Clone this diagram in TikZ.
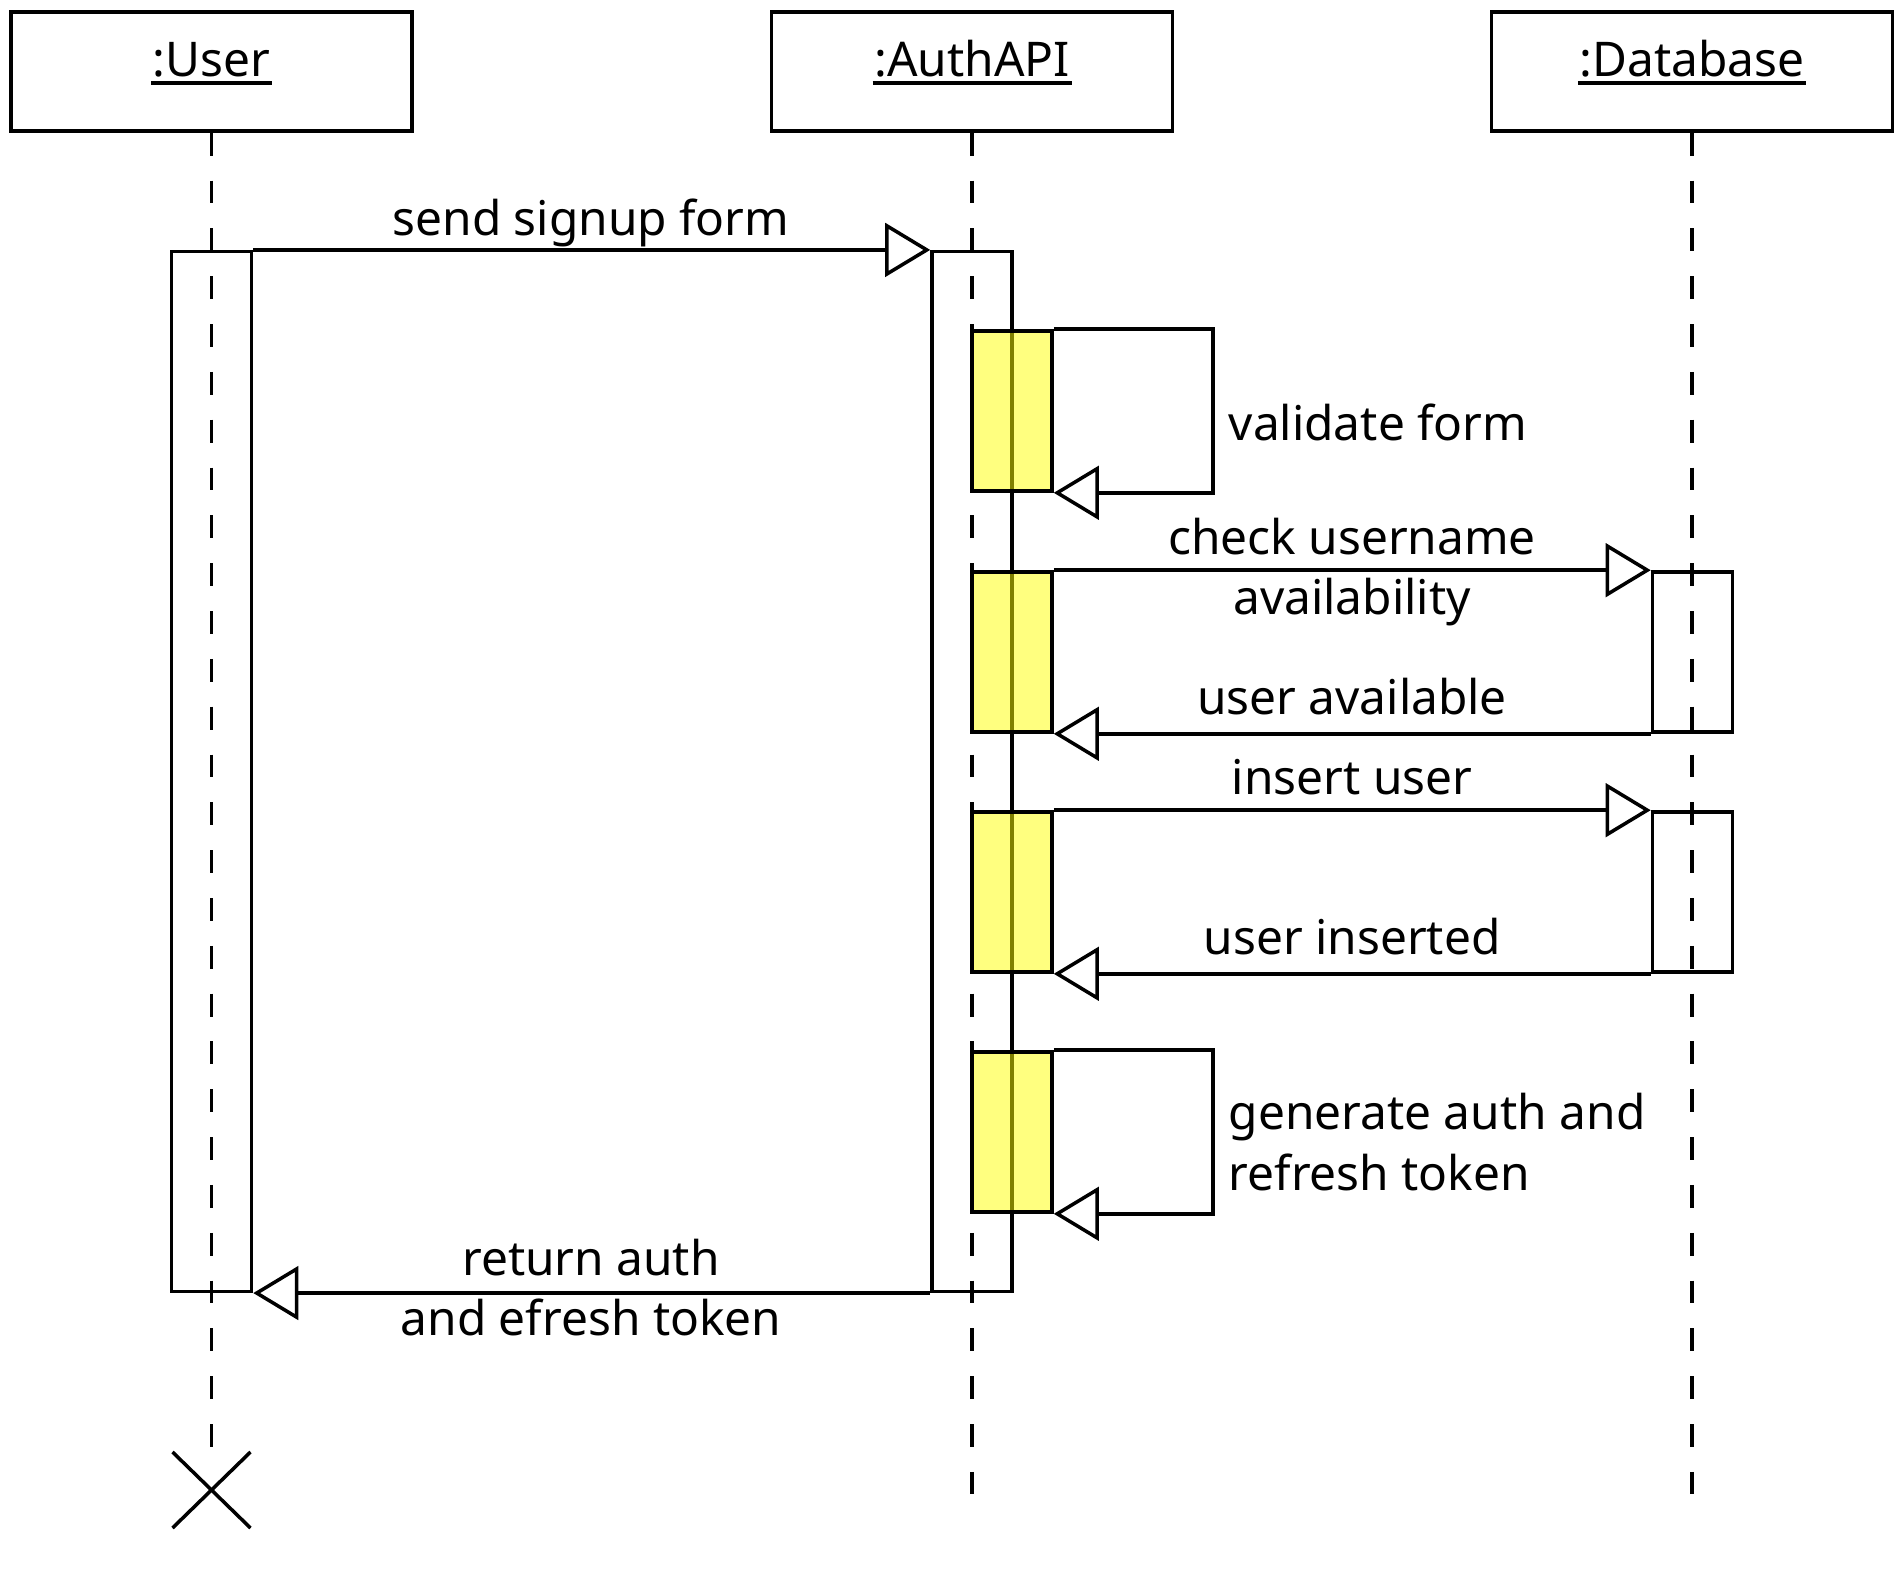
\documentclass[tikz,border=0pt]{standalone}
\usepackage{fontspec}
\setmainfont{Noto Sans}
\usetikzlibrary{arrows.meta,calc}
\definecolor{actyellow}{RGB}{255,255,0}
\begin{document}
\begin{tikzpicture}[x=0.01cm,y=-0.01cm, line width=1pt,
  every node/.style={font=\fontsize{13.6}{16}\selectfont, inner sep=0pt},
  head/.style={draw, minimum width=4.01cm, minimum height=1.19cm},
  life/.style={line width=0.9pt, dash pattern=on 6.5pt off 7.1pt},
  act/.style={draw, minimum width=0.8cm},
  yact/.style={draw, fill=actyellow, fill opacity=0.5, draw opacity=1, minimum width=0.8cm, minimum height=1.6cm},
  msg/.style={-{Triangle[length=12.8pt, width=15.2pt, fill=white, line join=miter]}},
  lbl/.style={anchor=base},
  lbll/.style={anchor=base west},
  uline/.style={line width=1.1pt}]
\useasboundingbox (0,0) rectangle (1900,1580);
% heads
\node[head] (user) at (211.5,71.5) {};
\node[head] (api) at (972,71.5) {};
\node[head] (db) at (1692,71.5) {};
\node[lbl] (tuser) at (211.5,77) {:User};
\node[lbl] (tapi) at (972,77) {:AuthAPI};
\node[lbl] (tdb) at (1692,77) {:Database};
\draw[uline] ($(tuser.base west)+(0,6)$) -- ($(tuser.base east)+(0,6)$);
\draw[uline] ($(tapi.base west)+(0,6)$) -- ($(tapi.base east)+(0,6)$);
\draw[uline] ($(tdb.base west)+(0,6)$) -- ($(tdb.base east)+(0,6)$);
% lifeline ends
\coordinate (userend) at (211.5,1452);
\coordinate (apiend) at (972,1494);
\coordinate (dbend) at (1692,1494);
\draw[life] (user.south) -- (userend);
\draw[life] (api.south) -- (apiend);
\draw[life] (db.south) -- (dbend);
% destruction mark
\draw (userend) ++(-39,0) -- ++(78,76);
\draw (userend) ++(39,0) -- ++(-78,76);
% activations
\node[act, minimum height=10.39cm] (ua) at (211.5,771.5) {};
\node[act, minimum height=10.39cm] (aa) at (972,771.5) {};
\node[act, minimum height=1.6cm] (d1) at (1692.5,652) {};
\node[act, minimum height=1.6cm] (d2) at (1692.5,892) {};
\node[yact] (y1) at (1012,411) {};
\node[yact] (y2) at (1012,652) {};
\node[yact] (y3) at (1012,892) {};
\node[yact] (y4) at (1012,1132) {};
% messages
\draw[msg] (ua.north east) -- (aa.north west);
\draw[msg] (y1.north east) -- ++(159,0) |- (y1.south east);
\draw[msg] (y2.north east) -- (d1.north west);
\draw[msg] (d1.south west) -- (y2.south east);
\draw[msg] (y3.north east) -- (d2.north west);
\draw[msg] (d2.south west) -- (y3.south east);
\draw[msg] (y4.north east) -- ++(159,0) |- (y4.south east);
\draw[msg] (aa.south west) -- (ua.south east);
% labels
\node[lbl] (l1) at (591,236) {send signup form};
\node[lbll] (l2) at (1227,441) {validate form};
\node[lbl] (l3a) at (1352,555) {check username};
\node[lbl] (l3b) at (1352,615) {availability};
\node[lbl] (l4) at (1352,715) {user available};
\node[lbl] (l5) at (1352,795) {insert user};
\node[lbl] (l6) at (1352,955) {user inserted};
\node[lbll] (l7a) at (1227,1130) {generate auth and};
\node[lbll] (l7b) at (1227,1191) {refresh token};
\node[lbl] (l8a) at (591,1275) {return auth};
\node[lbl] (l8b) at (591,1335) {and efresh token};
\end{tikzpicture}
\end{document}
